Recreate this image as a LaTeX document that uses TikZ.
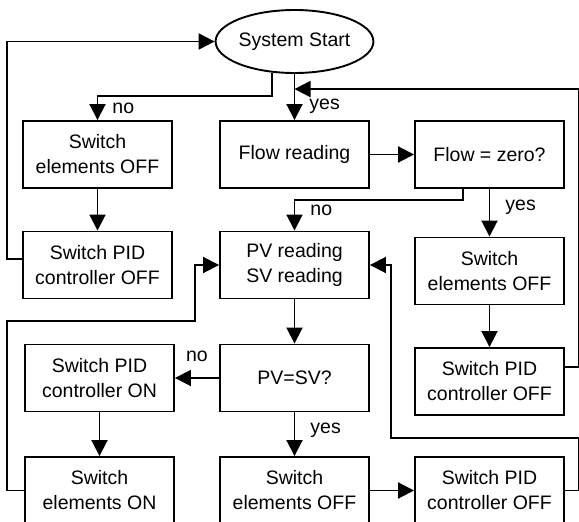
\documentclass[tikz,border=0pt]{standalone}
\usepackage{fontspec}
\setmainfont{Liberation Sans}
\usetikzlibrary{arrows.meta,shapes.geometric}

\tikzset{
  txt/.style={font=\fontsize{19.5}{25}\selectfont},
  block/.style={txt, draw, rectangle, line width=1.9pt, minimum width=149pt, minimum height=67pt, inner sep=0pt, align=center},
  terminal/.style={txt, draw, ellipse, line width=1.9pt, minimum width=147pt, minimum height=63pt, inner sep=0pt},
  link/.style={-{Triangle[length=16pt,width=16pt]}, line width=1.9pt},
  lbl/.style={txt, inner sep=2pt}
}

\begin{document}
\begin{tikzpicture}[x=1pt, y=-1pt]
    \useasboundingbox (0, 0) rectangle (579, 522);

    \node[terminal] (start) at (294.5, 41.5) {System Start};

    \node[block] (elemoff1) at (97.5, 154.5) {Switch\\elements OFF};
    \node[block] (pidoff1) at (97.5, 265) {Switch PID\\controller OFF};

    \node[block] (flowread) at (294.5, 154.5) {Flow reading};
    \node[block] (flowzero) at (489.5, 154.5) {Flow = zero?};
    \node[block] (pvread) at (294.5, 265) {PV reading\\SV reading};
    \node[block] (elemoff2) at (489.5, 271) {Switch\\elements OFF};
    \node[block] (pidoff2) at (489.5, 381.5) {Switch PID\\controller OFF};

    \node[block] (pvcheck) at (294.5, 378) {PV=SV?};
    \node[block] (pidon) at (99.5, 378) {Switch PID\\controller ON};
    \node[block] (elemon) at (99.5, 490.5) {Switch\\elements ON};
    \node[block] (elemoff3) at (294.5, 490.5) {Switch\\elements OFF};
    \node[block] (pidoff3) at (489.5, 490.5) {Switch PID\\controller OFF};

    \coordinate (join) at ([yshift=31pt]flowread.north);
    \coordinate (loopturn) at (195, 321);
    \coordinate (backturn) at (391, 438);

    % start branches
    \draw[link] (start.-126) |- ([yshift=24pt]elemoff1.north) -- node[lbl, right=12pt]{no} (elemoff1.north);
    \draw[link] (start.south) -- node[lbl, pos=.71, right=12pt]{yes} (flowread.north);

    \draw[link] (elemoff1) -- (pidoff1);
    \draw[link] ([yshift=6pt]pidoff1.west) -- ++(-15, 0) |- (start.west);

    \draw[link] (flowread) -- (flowzero);
    \draw[link] ([xshift=-26.5pt]flowzero.south) |- ([yshift=31pt]pvread.north) -- node[lbl, pos=.35, right=13pt]{no} (pvread.north);
    \draw[link] (flowzero.south) -- node[lbl, pos=.39, right=13pt]{yes} (elemoff2.north);
    \draw[link] (elemoff2) -- (pidoff2);
    \draw[link] ([yshift=14.5pt]pidoff2.east) -- ++(14, 0) |- (join);

    % control loop
    \draw[link] (pvread) -- (pvcheck);
    \draw[link] (pvcheck.west) -- node[lbl, above=13pt]{no} (pidon.east);
    \draw[link] (pvcheck.south) -- node[lbl, pos=.4, right=13pt]{yes} (elemoff3.north);
    \draw[link] (pidon) -- (elemon);
    \draw[link] (elemon.west) -- ++(-17, 0) |- (loopturn) |- (pvread.west);
    \draw[link] (elemoff3) -- (pidoff3);
    \draw[link] (pidoff3.east) -- ++(14, 0) |- (backturn) |- (pvread.east);
\end{tikzpicture}
\end{document}
